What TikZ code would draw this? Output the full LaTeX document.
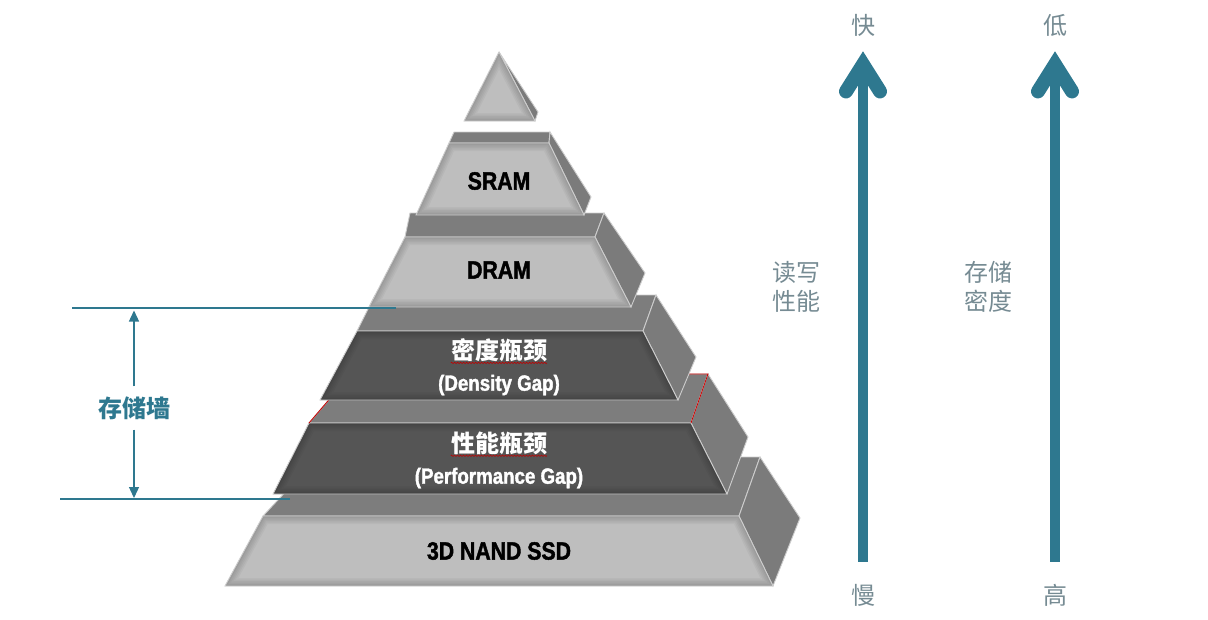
\documentclass[tikz,border=0pt]{standalone}
\usepackage{fontspec}
\newfontfamily\cjk{Noto Sans CJK SC}
\newfontfamily\narrow{Liberation Sans}[FakeStretch=0.85, BoldFeatures={FakeBold=1.6}]
\usetikzlibrary{arrows.meta}
\usetikzlibrary{decorations.pathmorphing}

\definecolor{wallblue}{HTML}{2E788F}
\definecolor{labelgray}{HTML}{768B93}
\definecolor{lightface}{HTML}{BEBEBE}
\definecolor{darkface}{HTML}{555555}
\definecolor{topface}{HTML}{7D7D7D}
\definecolor{sideface}{HTML}{7B7B7B}
\definecolor{rim}{HTML}{CDCDCD}

\tikzset{
 rimline/.style={draw=rim, line width=.9},
 redrim/.style={draw=red!80!black, line width=.8},
 slabtext/.style={inner sep=0, font=\narrow\bfseries\fontsize{25}{28}\selectfont},
 gaptext/.style={inner sep=0, text=white, font=\cjk\bfseries\fontsize{24}{28}\selectfont},
 gapsub/.style={inner sep=0, text=white, font=\narrow\bfseries\fontsize{22}{26}\selectfont},
 speedtext/.style={inner sep=0, text=labelgray, font=\cjk\fontsize{24}{29}\selectfont},
 walltext/.style={inner xsep=0, inner ysep=10pt, text=wallblue, font=\cjk\bfseries\fontsize{24}{28}\selectfont},
 bigarrow/.style={wallblue, line width=10.5, -{Straight Barb[length=27pt, width=34pt, line width=14pt, line cap=round, line join=miter]}},
 dimline/.style={wallblue, line width=1.3},
 squiggle/.style={red!75!black, line width=.6, decorate, decoration={zigzag, segment length=3, amplitude=.7}},
}

% #1 front colour, #2 back left, #3 back right, #4 side bottom,
% #5-#8 front face (top left, top right, bottom right, bottom left)
\newcommand\slab[8]{%
 \filldraw[fill=topface, rimline] #2--#3--#6--#5--cycle;
 \filldraw[fill=sideface, rimline] #6--#3--#4--#7--cycle;
 \begin{scope}
  \clip #5--#6--#7--#8--cycle;
  \fill[#1] #5--#6--#7--#8--cycle;
  \foreach \w in {16,13,10,7,4,2} \draw[black, opacity=.035, line width=\w] #5--#6--#7--#8--cycle;
 \end{scope}
 \draw[rimline] #5--#6--#7--#8--cycle;
}

\begin{document}
\begin{tikzpicture}[x=1pt,y=-1pt]
\useasboundingbox (0,0) rectangle (1208,619);

% pyramid, bottom layer first
\slab{lightface}{(318,457)}{(760,457)}{(800,518)}{(263,516)}{(739,516)}{(773,586)}{(225,586)}
\slab{darkface}{(351,374)}{(708,374)}{(748,437)}{(309,423)}{(691,423)}{(727,494)}{(273,494)}
\draw[redrim] (309,423) -- (351,374) -- (708,374) -- (691,423);
\slab{darkface}{(375,295)}{(656,295)}{(696,357)}{(357,331)}{(643,331)}{(678,400)}{(320,400)}
\slab{lightface}{(410,213)}{(604,213)}{(645,273)}{(405,237)}{(595,237)}{(631,307)}{(369,307)}
\slab{lightface}{(454,132)}{(550,132)}{(591,197)}{(449,143)}{(549,143)}{(584,215)}{(416,215)}
% tip
\filldraw[fill=sideface, rimline] (499,52) -- (538,112) -- (535,121) -- cycle;
\begin{scope}
 \clip (499,52) -- (535,121) -- (464,121) -- cycle;
 \fill[lightface] (499,52) -- (535,121) -- (464,121) -- cycle;
 \foreach \w in {16,13,10,7,4,2} \draw[black, opacity=.035, line width=\w] (499,52) -- (535,121) -- (464,121) -- cycle;
\end{scope}
\draw[rimline] (499,52) -- (535,121) -- (464,121) -- cycle;

\node[slabtext] (sram) at (499,181) {SRAM};
\node[slabtext] (dram) at (499,270) {DRAM};
\node[gaptext] (dgapcn) at (499,350) {密度瓶颈};
\node[gapsub] (dgap) at (499,385) {(Density Gap)};
\node[gaptext] (pgapcn) at (499,443) {性能瓶颈};
\node[gapsub] (pgap) at (499,478) {(Performance Gap)};
\node[slabtext] (nand) at (499,551) {3D NAND SSD};
\draw[squiggle] ([yshift=-1pt]dgapcn.south west) -- ([yshift=-1pt]dgapcn.south east);
\draw[squiggle] ([yshift=-1pt]pgapcn.south west) -- ([yshift=-1pt]pgapcn.south east);

% memory wall
\draw[dimline] (72,308) -- (396,308);
\draw[dimline] (60,499) -- (290,499);
\node[walltext] (wall) at (134,408) {存储墙};
\coordinate (walltop) at (134,308);
\coordinate (wallbot) at (134,499);
\draw[dimline, -{Triangle[length=11pt,width=10pt]}, shorten >=2.5pt] (wall) -- (walltop);
\draw[dimline, -{Triangle[length=11pt,width=10pt]}, shorten >=1pt] (wall) -- (wallbot);

% speed and density arrows
\node[speedtext] (fast) at (863,25) {快};
\node[speedtext] (slow) at (863,595) {慢};
\node[speedtext] (low) at (1055,25) {低};
\node[speedtext] (high) at (1055,595) {高};
\node[speedtext, align=center] (rwperf) at (796,287) {读写\\性能};
\node[speedtext, align=center] (dens) at (988,287) {存储\\密度};
\draw[bigarrow] ([yshift=22pt]slow.north) -- ([yshift=-15pt]fast.south);
\draw[bigarrow] ([yshift=22pt]high.north) -- ([yshift=-15pt]low.south);
\end{tikzpicture}
\end{document}
